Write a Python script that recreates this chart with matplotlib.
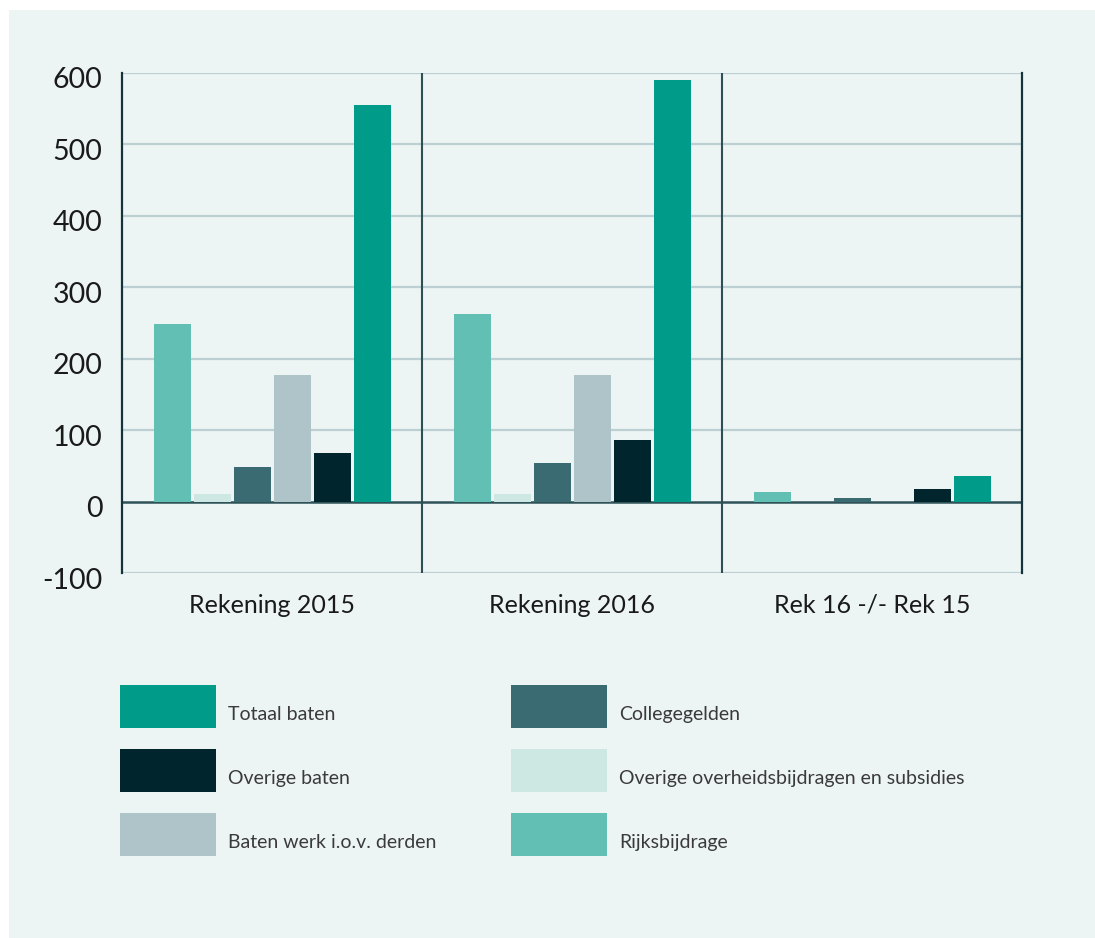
import matplotlib
matplotlib.use("Agg")
import matplotlib.pyplot as plt
import matplotlib.transforms as mtransforms
from matplotlib.patches import Rectangle
import numpy as np

plt.rcParams["font.family"] = ["Lato", "DejaVu Sans"]

categories = ["Rekening 2015", "Rekening 2016", "Rek 16 -/- Rek 15"]
series_names = [
    "Rijksbijdrage",
    "Overige overheidsbijdragen en subsidies",
    "Collegegelden",
    "Baten werk i.o.v. derden",
    "Overige baten",
    "Totaal baten",
]
rijksbijdrage = [248, 262, 14]
overige_overheid = [10, 10, 0]
collegegelden = [48, 54, 5]
baten_werk = [177, 177, 0]
overige_baten = [68, 86, 18]
totaal_baten = [555, 590, 36]
series_values = [rijksbijdrage, overige_overheid, collegegelden,
                 baten_werk, overige_baten, totaal_baten]
colors = ["#61bfb4", "#cde8e2", "#3a6b72", "#afc4c9", "#00252c", "#009c89"]
y_ticks = [-100, 0, 100, 200, 300, 400, 500, 600]

bg = "#ecf5f3"
W, H = 1095, 938
fig = plt.figure(figsize=(W / 100, H / 100), dpi=100, facecolor="white")
fig.patches.append(Rectangle((9 / W, 0), 1 - 9 / W, 1 - 10 / H,
                             transform=fig.transFigure, facecolor=bg,
                             edgecolor="none", zorder=-10))

ax = fig.add_axes([122 / W, 1 - 573 / H, 900 / W, 500 / H])
ax.set_facecolor(bg)

x = np.arange(len(categories))
step = 40 / 300
width = 37 / 300
for i, (vals, col) in enumerate(zip(series_values, colors)):
    ax.bar(x + (i - 2.5) * step, vals, width=width, color=col, zorder=3)

ax.set_xlim(-0.5, 2.5)
ax.set_ylim(-100, 600)
ax.set_yticks(y_ticks)
ax.set_yticklabels([str(v) for v in y_ticks], fontsize=20.5, color="#1a1a1a")
ax.set_xticks(x)
ax.set_xticklabels(categories, fontsize=18, color="#1a1a1a")
ax.tick_params(axis="both", length=0)
ax.tick_params(axis="y", pad=14)
ax.tick_params(axis="x", pad=15)
offset = mtransforms.ScaledTranslation(0, -5 / 100, fig.dpi_scale_trans)
for lbl in ax.get_yticklabels():
    lbl.set_transform(lbl.get_transform() + offset)

for v in y_ticks:
    if v == 0:
        continue
    ax.axhline(v, color="#bccfd2", linewidth=1.6, zorder=1)
ax.axhline(0, color="#2e5258", linewidth=1.8, zorder=2)
for xv in [0.5, 1.5]:
    ax.axvline(xv, color="#2e4f55", linewidth=1.5, zorder=2)

for side in ["top", "bottom"]:
    ax.spines[side].set_visible(False)
for side in ["left", "right"]:
    ax.spines[side].set_color("#15333a")
    ax.spines[side].set_linewidth(1.6)

# legend: left column then right column
legend_order = [5, 4, 3, 2, 1, 0]
col_x = [120, 511]
row_y = [685, 749, 813]
for k, idx in enumerate(legend_order):
    cx = col_x[k // 3]
    ry = row_y[k % 3]
    fig.patches.append(Rectangle((cx / W, 1 - (ry + 43) / H), 96 / W, 43 / H,
                                 transform=fig.transFigure,
                                 facecolor=colors[idx], edgecolor="none"))
    fig.text((cx + 108) / W, 1 - (ry + 35) / H, series_names[idx],
             fontsize=14, color="#3a3a3a",
             va="baseline", ha="left")

fig.savefig("out.png", dpi=100, facecolor=fig.get_facecolor())
